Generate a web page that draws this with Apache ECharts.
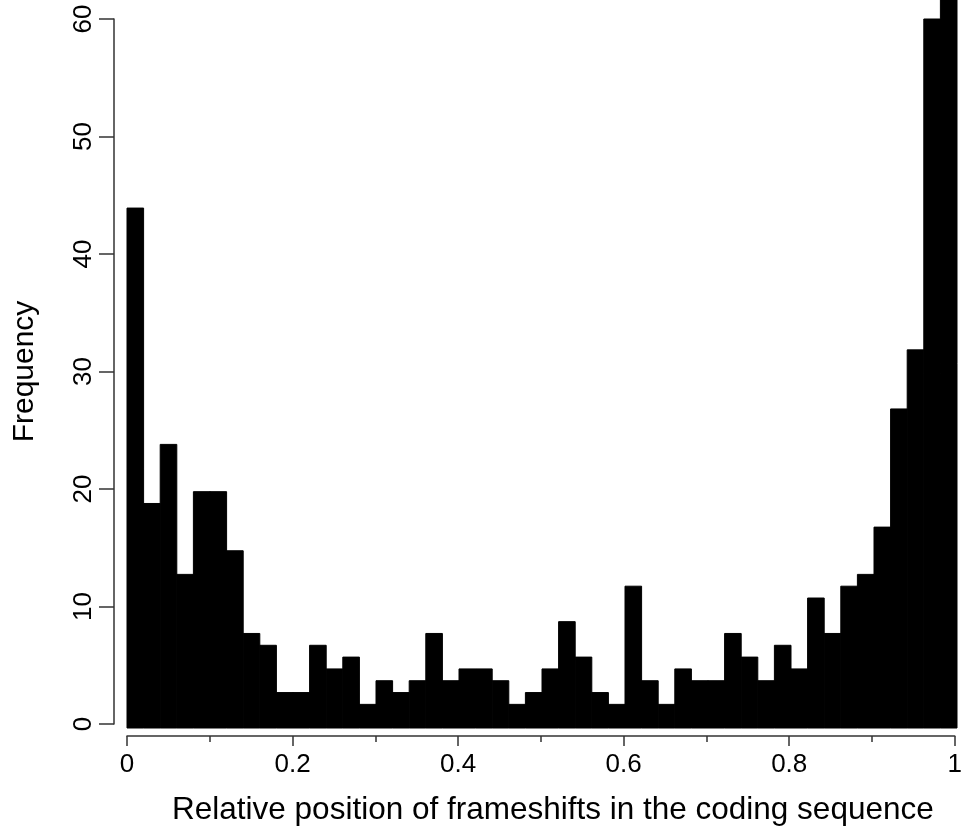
<!DOCTYPE html>
<html>
<head>
<meta charset="utf-8">
<script src="https://cdn.jsdelivr.net/npm/echarts@6/dist/echarts.min.js"></script>
<style>
  html, body { margin: 0; padding: 0; background: #fff; }
  #chart { width: 965px; height: 831px; }
</style>
</head>
<body>
<div id="chart"></div>
<script>
// Histogram of frameshift positions: 50 bins of width 0.02 over [0, 1]
const binWidth = 0.02;
const counts = [
  44, 19, 24, 13, 20, 20, 15, 8, 7, 3,
  3, 7, 5, 6, 2, 4, 3, 4, 8, 4,
  5, 5, 4, 2, 3, 5, 9, 6, 3, 2,
  12, 4, 2, 5, 4, 4, 8, 6, 4, 7,
  5, 11, 8, 12, 13, 17, 27, 32, 60, 62
];
const xTicks = [0, 0.2, 0.4, 0.6, 0.8, 1];
const yTicks = [0, 10, 20, 30, 40, 50, 60];

const xTitle = 'Relative position of frameshifts in the coding sequence';
const yTitle = 'Frequency';

// [start, end, count] per bin
const bins = counts.map((c, i) => [i * binWidth, (i + 1) * binWidth, c]);

const FONT = 'Liberation Sans, Arial, Helvetica, sans-serif';
const axisColor = '#333';

const chart = echarts.init(document.getElementById('chart'), null, { renderer: 'canvas' });

chart.setOption({
  backgroundColor: '#fff',
  animation: false,
  grid: [
    // plotting region (extends past 60 to the top edge)
    { left: 127, right: 8, top: 0, bottom: 103 },
    // region holding the visible axes, 0..60
    { left: 127, right: 8, top: 19, bottom: 103 }
  ],
  xAxis: [
    { type: 'value', gridIndex: 0, min: 0, max: 1, show: false },
    {
      type: 'value', gridIndex: 1, min: xTicks[0], max: xTicks[xTicks.length - 1],
      interval: xTicks[1] - xTicks[0], offset: 12,
      axisLine: { show: true, onZero: false, lineStyle: { color: axisColor, width: 1.5 } },
      axisTick: { show: true, length: 10, lineStyle: { color: axisColor, width: 1.5 } },
      minorTick: { show: true, splitNumber: 2, length: 6, lineStyle: { color: axisColor, width: 1.5 } },
      splitLine: { show: false },
      axisLabel: { color: '#000', fontFamily: FONT, fontSize: 26, margin: 16, showMinLabel: true, showMaxLabel: true },
      name: xTitle, nameLocation: 'middle', nameGap: 58,
      nameTextStyle: { color: '#000', fontFamily: FONT, fontSize: 31.5, padding: [0, 0, 0, 24] }
    }
  ],
  yAxis: [
    { type: 'value', gridIndex: 0, min: 0, max: 728 / (709 / 60), show: false },
    {
      type: 'value', gridIndex: 1, min: yTicks[0], max: yTicks[yTicks.length - 1],
      interval: yTicks[1] - yTicks[0], offset: 13,
      axisLine: { show: true, onZero: false, lineStyle: { color: axisColor, width: 1.5 } },
      axisTick: { show: true, length: 15, lineStyle: { color: axisColor, width: 1.5 } },
      splitLine: { show: false },
      axisLabel: { color: '#000', fontFamily: FONT, fontSize: 26, rotate: 90, margin: 17 },
      name: yTitle, nameLocation: 'middle', nameGap: 74, nameRotate: 90,
      nameTextStyle: { color: '#000', fontFamily: FONT, fontSize: 30 }
    }
  ],
  series: [{
    type: 'custom',
    xAxisIndex: 0,
    yAxisIndex: 0,
    data: bins,
    renderItem: function (params, api) {
      const p0 = api.coord([api.value(0), 0]);
      const p1 = api.coord([api.value(1), api.value(2)]);
      return {
        type: 'rect',
        shape: { x: p0[0], y: p1[1], width: p1[0] - p0[0], height: p0[1] - p1[1] },
        style: { fill: '#000', stroke: '#000', lineWidth: 1 }
      };
    }
  }]
});
</script>
</body>
</html>
